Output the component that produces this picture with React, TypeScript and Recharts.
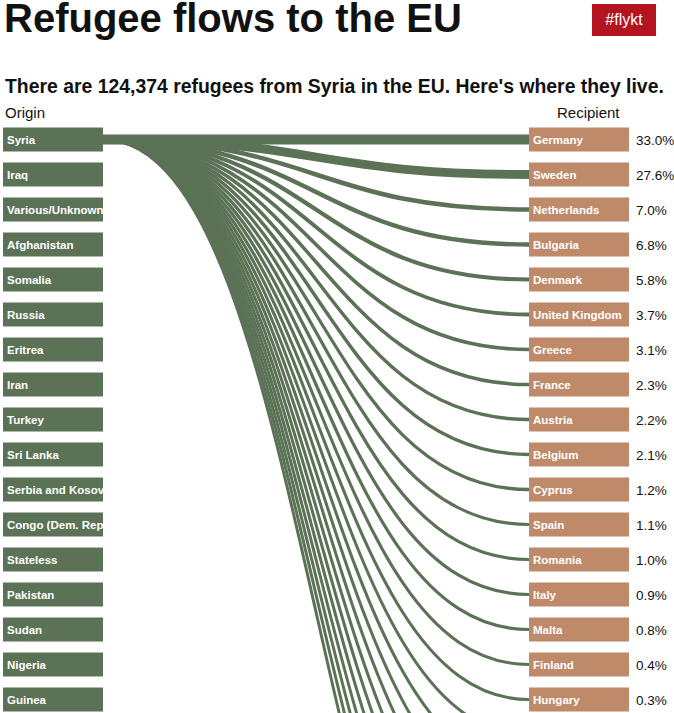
import { ComposedChart, Line, Scatter, XAxis, YAxis } from "recharts"

const ORIGINS = [
  "Syria", "Iraq", "Various/Unknown", "Afghanistan", "Somalia", "Russia",
  "Eritrea", "Iran", "Turkey", "Sri Lanka", "Serbia and Kosovo",
  "Congo (Dem. Rep.)", "Stateless", "Pakistan", "Sudan", "Nigeria", "Guinea",
]

const RECIPIENTS = [
  "Germany", "Sweden", "Netherlands", "Bulgaria", "Denmark", "United Kingdom",
  "Greece", "France", "Austria", "Belgium", "Cyprus", "Spain", "Romania",
  "Italy", "Malta", "Finland", "Hungary", "Czech Republic", "Poland",
  "Ireland", "Luxembourg", "Portugal", "Slovakia", "Slovenia", "Lithuania",
  "Latvia", "Estonia", "Croatia",
]

const SHARES = [
  33.0, 27.6, 7.0, 6.8, 5.8, 3.7, 3.1, 2.3, 2.2, 2.1, 1.2, 1.1, 1.0, 0.9, 0.8,
  0.4, 0.3, 0.1, 0.1, 0.1, 0.1, 0.1, 0.1, 0.0, 0.0, 0.0, 0.0, 0.0,
]

const SOURCE = "Syria"

const GREEN = "#5b7256"
const TAN = "#bf8a6a"
const RED = "#b3141f"
const FONT = "'Liberation Sans', Arial, sans-serif"

const BOX_W = 100
const BOX_H = 24
const ROW_H = 35
const TOP = 122

const originData = ORIGINS.map((name, i) => ({ x: 0, y: i, name }))
const recipientData = RECIPIENTS.map((name, i) => ({ x: 1, y: i, name, share: SHARES[i] }))
const srcIndex = ORIGINS.indexOf(SOURCE)
const links = RECIPIENTS.map((name, i) => ({
  name,
  share: SHARES[i],
  data: [
    { x: 0, y: srcIndex },
    { x: 1, y: i },
  ],
}))

// d3-style curve factory: horizontal sankey link between consecutive points
function sankeyCurve(context: any) {
  let pts: number[][] = []
  return {
    areaStart() {},
    areaEnd() {},
    lineStart() {
      pts = []
    },
    point(x: number, y: number) {
      pts.push([+x, +y])
    },
    lineEnd() {
      if (!pts.length) return
      context.moveTo(pts[0][0], pts[0][1])
      for (let k = 1; k < pts.length; k++) {
        const [px, py] = pts[k - 1]
        const [x1, y1] = pts[k]
        const xm = (px + x1) / 2
        context.bezierCurveTo(xm, py, xm, y1, x1, y1)
      }
    },
  }
}

function OriginBox(props: any) {
  const { cx, cy, payload } = props
  const id = `clip-o-${payload.y}`
  const x = cx - BOX_W
  return (
    <g>
      <defs>
        <clipPath id={id}>
          <rect x={x} y={cy - BOX_H / 2} width={BOX_W} height={BOX_H} />
        </clipPath>
      </defs>
      <rect x={x} y={cy - BOX_H / 2} width={BOX_W} height={BOX_H} fill={GREEN} />
      <text
        x={x + 4}
        y={cy + 4}
        fill="#fff"
        fontSize={11.5}
        fontWeight="bold"
        fontFamily={FONT}
        clipPath={`url(#${id})`}
      >
        {payload.name}
      </text>
    </g>
  )
}

function RecipientBox(props: any) {
  const { cx, cy, payload } = props
  const id = `clip-r-${payload.y}`
  return (
    <g>
      <defs>
        <clipPath id={id}>
          <rect x={cx} y={cy - BOX_H / 2} width={BOX_W} height={BOX_H} />
        </clipPath>
      </defs>
      <rect x={cx} y={cy - BOX_H / 2} width={BOX_W} height={BOX_H} fill={TAN} />
      <text
        x={cx + 4}
        y={cy + 4}
        fill="#fff"
        fontSize={11.5}
        fontWeight="bold"
        fontFamily={FONT}
        clipPath={`url(#${id})`}
      >
        {payload.name}
      </text>
      <text x={cx + BOX_W + 7} y={cy + 5} fill="#111" fontSize={13.5} fontFamily={FONT}>
        {payload.share.toFixed(1)}%
      </text>
    </g>
  )
}

export default function App() {
  const rows = RECIPIENTS.length
  const height = TOP + rows * ROW_H + 10
  return (
    <div
      style={{
        position: "relative",
        width: 674,
        height: 713,
        overflow: "hidden",
        fontFamily: FONT,
        color: "#111",
        background: "#fff",
      }}
    >
      <style>{"body{margin:0}"}</style>
      <div style={{ position: "absolute", left: 0, top: 0 }}>
        <ComposedChart
          width={674}
          height={height}
          margin={{ top: TOP, right: 145, bottom: 10, left: 103 }}
        >
          <XAxis dataKey="x" type="number" domain={[0, 1]} hide />
          <YAxis dataKey="y" type="number" domain={[-0.5, rows - 0.5]} reversed hide />
          {links
            .slice()
            .reverse()
            .map((l) => (
              <Line
                key={l.name}
                data={l.data}
                dataKey="y"
                type={sankeyCurve as any}
                stroke={GREEN}
                strokeWidth={3 + (7 * l.share) / 33}
                dot={false}
                activeDot={false}
                isAnimationActive={false}
              />
            ))}
          <Scatter data={originData} shape={<OriginBox />} isAnimationActive={false} />
          <Scatter data={recipientData} shape={<RecipientBox />} isAnimationActive={false} />
        </ComposedChart>
      </div>
      <div
        style={{
          position: "absolute",
          left: 4,
          top: -2,
          fontSize: 40,
          lineHeight: "40px",
          fontWeight: "bold",
          whiteSpace: "nowrap",
        }}
      >
        Refugee flows to the EU
      </div>
      <div
        style={{
          position: "absolute",
          left: 592,
          top: 4,
          width: 64,
          height: 32,
          background: RED,
          color: "#fff",
          fontSize: 16,
          lineHeight: "32px",
          textAlign: "center",
        }}
      >
        #flykt
      </div>
      <div
        style={{
          position: "absolute",
          left: 5,
          top: 77,
          fontSize: 19.4,
          lineHeight: "19.4px",
          fontWeight: "bold",
          whiteSpace: "nowrap",
        }}
      >
        There are 124,374 refugees from Syria in the EU. Here's where they live.
      </div>
      <div style={{ position: "absolute", left: 5, top: 105, fontSize: 15, lineHeight: "15px" }}>
        Origin
      </div>
      <div style={{ position: "absolute", left: 557, top: 105, fontSize: 15, lineHeight: "15px" }}>
        Recipient
      </div>
    </div>
  )
}
